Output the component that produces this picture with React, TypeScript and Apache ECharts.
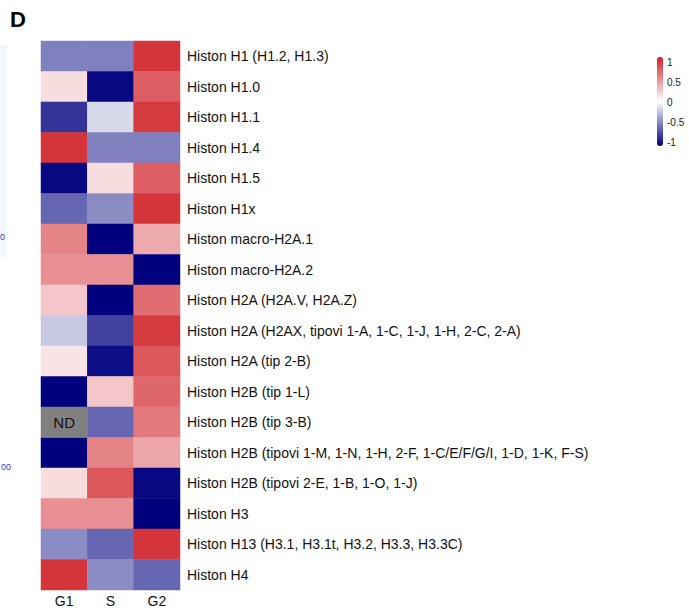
import React, { useEffect, useRef } from "react";
import * as echarts from "echarts";

const columns = ["G1", "S", "G2"];

const rowLabels = [
  "Histon H1 (H1.2, H1.3)",
  "Histon H1.0",
  "Histon H1.1",
  "Histon H1.4",
  "Histon H1.5",
  "Histon H1x",
  "Histon macro-H2A.1",
  "Histon macro-H2A.2",
  "Histon H2A (H2A.V, H2A.Z)",
  "Histon H2A (H2AX, tipovi 1-A, 1-C, 1-J, 1-H, 2-C, 2-A)",
  "Histon H2A (tip 2-B)",
  "Histon H2B (tip 1-L)",
  "Histon H2B (tip 3-B)",
  "Histon H2B (tipovi 1-M, 1-N, 1-H, 2-F, 1-C/E/F/G/I, 1-D, 1-K, F-S)",
  "Histon H2B (tipovi 2-E, 1-B, 1-O, 1-J)",
  "Histon H3",
  "Histon H13 (H3.1, H3.1t, H3.2, H3.3, H3.3C)",
  "Histon H4",
];

// null = not determined (ND)
const g1Values: (number | null)[] = [
  -0.5, 0.15, -0.8, 0.9, -0.97, -0.6, 0.55, 0.5, 0.25, -0.22, 0.12, -1, null,
  -1, 0.15, 0.5, -0.45, 0.9,
];
const sValues: number[] = [
  -0.5, -0.97, -0.15, -0.5, 0.15, -0.45, -1, 0.5, -1, -0.75, -0.95, 0.25,
  -0.6, 0.55, 0.75, 0.5, -0.6, -0.45,
];
const g2Values: number[] = [
  0.9, 0.72, 0.88, -0.5, 0.72, 0.9, 0.38, -1, 0.65, 0.88, 0.75, 0.68, 0.6,
  0.4, -0.97, -1, 0.9, -0.6,
];

const legendTicks = ["1", "0.5", "0", "-0.5", "-1"];
const ndLabel = "ND";

export default function App() {
  const ref = useRef<HTMLDivElement>(null);

  useEffect(() => {
    if (!ref.current) return;
    const chart = echarts.init(ref.current, undefined, { renderer: "svg" });

    const cols = [g1Values, sValues, g2Values];
    const data: any[] = [];
    const ndData: any[] = [];
    cols.forEach((vals, ci) => {
      vals.forEach((v, ri) => {
        if (v === null) ndData.push([ci, ri, 0]);
        else data.push([ci, ri, v]);
      });
    });

    const barLeft = 657;
    const barTop = 57;
    const barH = 89;

    chart.setOption({
      animation: false,
      textStyle: { fontFamily: "Liberation Sans, Arial, sans-serif" },
      grid: { left: 41, right: 509, top: 41, bottom: 21 },
      xAxis: {
        type: "category",
        data: columns,
        position: "bottom",
        axisLine: { show: false },
        axisTick: { show: false },
        splitLine: { show: false },
        axisLabel: { color: "#111", fontSize: 14, margin: 4 },
      },
      yAxis: {
        type: "category",
        data: rowLabels,
        inverse: true,
        position: "right",
        axisLine: { show: false },
        axisTick: { show: false },
        splitLine: { show: false },
        axisLabel: { color: "#111", fontSize: 14, margin: 7 },
      },
      visualMap: [
        {
          type: "continuous",
          seriesIndex: 0,
          min: -1,
          max: 1,
          calculable: false,
          orient: "vertical",
          align: "left",
          padding: 0,
          left: barLeft,
          top: barTop,
          itemWidth: 6,
          itemHeight: barH,
          showLabel: false,
          inRange: { color: ["#00007f", "#ffffff", "#cf1f25"] },
        },
        {
          type: "continuous",
          seriesIndex: 1,
          show: false,
          min: -1,
          max: 1,
          inRange: { color: ["#808080", "#808080"] },
        },
      ],
      graphic: [
        {
          type: "text",
          left: 10,
          top: 8,
          style: {
            text: "D",
            fontSize: 22,
            fontWeight: "bold",
            fill: "#000",
            fontFamily: "Liberation Sans, Arial, sans-serif",
          },
        },
        {
          type: "rect",
          shape: { x: 0, y: 45, width: 7, height: 212 },
          style: { fill: "#f2f7fa" },
        },
        {
          type: "text",
          x: 0,
          y: 232,
          style: { text: "0", fontSize: 9, fill: "#3a3ad0" },
        },
        {
          type: "text",
          x: 1,
          y: 462,
          style: { text: "00", fontSize: 9, fill: "#3a3ad0" },
        },
        ...legendTicks.map((t, i) => ({
          type: "text",
          x: barLeft + 10,
          y: barTop + 5 + (i * (barH - 9)) / (legendTicks.length - 1),
          style: {
            text: t,
            fontSize: 10,
            fill: "#222",
            verticalAlign: "middle",
            fontFamily: "Liberation Sans, Arial, sans-serif",
          },
        })),
      ],
      series: [
        {
          type: "heatmap",
          data,
          itemStyle: { borderWidth: 0 },
          emphasis: { disabled: true },
        },
        {
          type: "heatmap",
          data: ndData,
          itemStyle: { borderWidth: 0 },
          label: {
            show: true,
            formatter: () => ndLabel,
            color: "#111",
            fontSize: 15,
          },
          emphasis: { disabled: true },
        },
      ],
    });

    return () => chart.dispose();
  }, []);

  return (
    <div
      ref={ref}
      style={{ position: "absolute", left: 0, top: 0, width: 689, height: 611 }}
    />
  );
}
